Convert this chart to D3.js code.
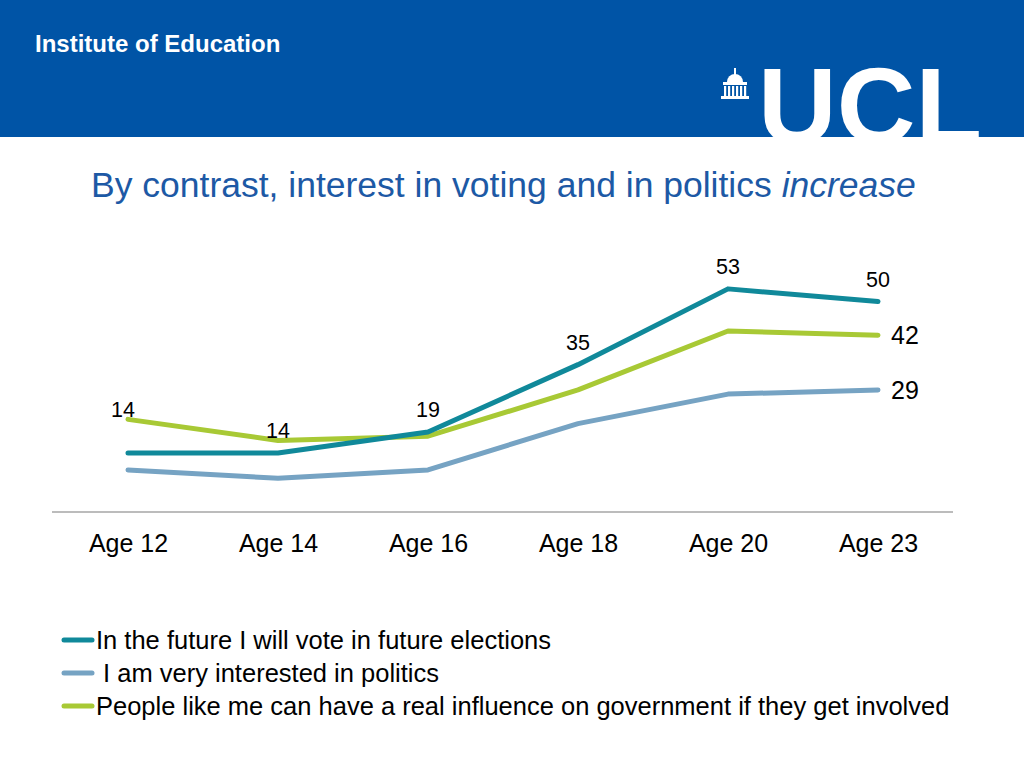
<!DOCTYPE html>
<html><head><meta charset="utf-8">
<script src="https://cdn.jsdelivr.net/npm/d3@7"></script>
<style>body{margin:0;background:#fff}svg{display:block}text{font-family:"Liberation Sans",Arial,sans-serif}</style>
</head><body>
<script>
const categories = ["Age 12","Age 14","Age 16","Age 18","Age 20","Age 23"];
const voteSeries = [14,14,19,35,53,50];
const interestSeries = [10,8,10,21,28,29];
const influenceSeries = [22,17,18,29,43,42];
const seriesNames = ["In the future I will vote in future elections"," I am very interested in politics","People like me can have a real influence on government if they get involved"];
const seriesColors = ["#10899A","#76A3C3","#A8C935"];
const titleMain = "By contrast, interest in voting and in politics ";
const titleItalic = "increase";

const W=1024,H=768;
const svg=d3.select("body").append("svg").attr("width",W).attr("height",H);

// header
svg.append("rect").attr("x",0).attr("y",0).attr("width",W).attr("height",137).attr("fill","#0054A6");
svg.append("text").attr("x",35).attr("y",52).attr("fill","#fff").attr("font-weight","bold").attr("font-size",24).text("Institute of Education");
svg.append("clipPath").attr("id","hc").append("rect").attr("x",0).attr("y",0).attr("width",W).attr("height",137);
svg.append("text").attr("clip-path","url(#hc)").attr("x",758).attr("y",143).attr("fill","#fff").attr("font-weight","bold").attr("font-size",108).attr("textLength",224).attr("lengthAdjust","spacingAndGlyphs").text("UCL");
// building icon
const b=svg.append("g").attr("fill","#fff");
b.append("path").attr("d","M727,82 A8,8 0 0 1 743,82 Z");
b.append("rect").attr("x",734).attr("y",68).attr("width",2).attr("height",7);
b.append("rect").attr("x",723).attr("y",82).attr("width",24).attr("height",3);
for(let i=0;i<6;i++) b.append("rect").attr("x",724+i*4).attr("y",86).attr("width",2.2).attr("height",10);
b.append("rect").attr("x",721).attr("y",96).attr("width",28).attr("height",3);

// title
const t=svg.append("text").attr("x",91).attr("y",197).attr("fill","#1D59A5").attr("font-size",35.5);
t.append("tspan").text(titleMain);
t.append("tspan").attr("font-style","italic").text(titleItalic);

// scales
const x=d3.scalePoint().domain(categories).range([53,953]).padding(0.5);
const y=d3.scaleLinear().domain([0,60]).range([512,512-60*4.21]);

// axis
const ax=svg.append("g").attr("transform","translate(0,512)").call(d3.axisBottom(x).tickSize(0).tickPadding(0));
ax.select(".domain").attr("stroke","#A6A6A6").attr("stroke-width",1.3).attr("d","M52,0H953");
ax.selectAll("text").attr("font-size",25).attr("fill","#000").attr("font-family","Liberation Sans, Arial, sans-serif").attr("dy",null).attr("y",40);

const all=[voteSeries,interestSeries,influenceSeries];
const line=d3.line().x((d,i)=>x(categories[i])).y(d=>y(d));
[1,2,0].forEach(k=>{
  svg.append("path").datum(all[k]).attr("d",line).attr("fill","none").attr("stroke",seriesColors[k]).attr("stroke-width",5).attr("stroke-linecap","round").attr("stroke-linejoin","round");
});

// labels of vote series above line
svg.append("g").selectAll("text").data(voteSeries).join("text")
  .attr("x",(d,i)=>x(categories[i])+(i===0?-5:0))
  .attr("y",(d,i)=>y(i===0?influenceSeries[0]:d)-(i===0?2:15))
  .attr("text-anchor","middle").attr("font-size",21.5).attr("fill","#000").text(d=>d);
// end labels
[[influenceSeries,2],[interestSeries,1]].forEach(([s,k])=>{
  const n=s.length-1;
  svg.append("text").attr("x",x(categories[n])+13).attr("y",y(s[n])+9).attr("font-size",25).attr("fill","#000").text(s[n]);
});

// legend
const lg=svg.append("g");
seriesNames.forEach((nm,i)=>{
  const yy=640+i*33;
  lg.append("line").attr("x1",64).attr("x2",92).attr("y1",yy).attr("y2",yy).attr("stroke",seriesColors[i]).attr("stroke-width",5).attr("stroke-linecap","round");
  lg.append("text").attr("x",96).attr("y",yy+9).attr("font-size",25.5).attr("fill","#000").attr("xml:space","preserve").style("white-space","pre").text(nm);
});
</script>
</body></html>
